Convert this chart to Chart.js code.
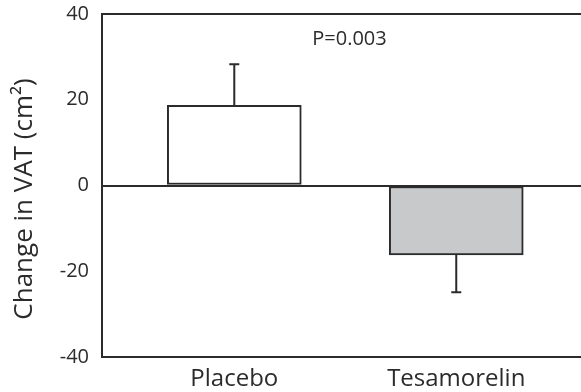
<!DOCTYPE html>
<html>
<head>
<meta charset="utf-8">
<script src="https://cdn.jsdelivr.net/npm/chart.js@4"></script>
<style>
  html, body { margin: 0; padding: 0; background: #fff; }
  #wrap { width: 581px; height: 392px; }
</style>
</head>
<body>
<div id="wrap"><canvas id="c" width="581" height="392"></canvas></div>
<script>
// Mean change in visceral adipose tissue by treatment group
const categories = ['Placebo', 'Tesamorelin'];
const changes = [18.7, -16.2];
const errors = [9.6, 8.7];
const barColors = ['#ffffff', '#c8c9cb'];
const yTicks = [-40, -20, 0, 20, 40];
const yTitle = 'Change in VAT (cm²)';
const pLabel = 'P=0.003';

const FONT = '"Open Sans", "Noto Sans", sans-serif';
const INK = '#2b2b2b';

// Error bars drawn from the errors array, pointing away from zero
const errorBars = {
  id: 'errorBars',
  afterDatasetsDraw(chart) {
    const { ctx, scales: { x, y } } = chart;
    ctx.save();
    ctx.strokeStyle = INK;
    ctx.lineWidth = 2;
    changes.forEach((v, i) => {
      const px = x.getPixelForValue(i);
      const end = v >= 0 ? v + errors[i] : v - errors[i];
      const y0 = y.getPixelForValue(v);
      const y1 = y.getPixelForValue(end);
      ctx.beginPath();
      ctx.moveTo(px, y0);
      ctx.lineTo(px, y1);
      ctx.moveTo(px - 5, y1);
      ctx.lineTo(px + 5, y1);
      ctx.stroke();
    });
    ctx.restore();
  }
};

// Significance note inside the plot and the rotated y-axis title
const annotations = {
  id: 'annotations',
  afterDraw(chart) {
    const { ctx, scales: { x, y } } = chart;
    ctx.save();
    ctx.fillStyle = INK;
    ctx.font = '20px ' + FONT;
    ctx.textAlign = 'center';
    ctx.textBaseline = 'middle';
    ctx.fillText(pLabel, x.getPixelForValue(0.519), y.getPixelForValue(34.0));

    ctx.translate(25, 199);
    ctx.rotate(-Math.PI / 2);
    ctx.font = '26px ' + FONT;
    ctx.fillText(yTitle, 0, 0);
    ctx.restore();
  }
};

new Chart(document.getElementById('c'), {
  type: 'bar',
  data: {
    datasets: [{
      data: categories.map((c, i) => ({ x: i, y: changes[i] })),
      backgroundColor: barColors,
      borderColor: INK,
      borderWidth: 2,
      borderSkipped: false,
      barThickness: 134
    }]
  },
  options: {
    responsive: false,
    animation: false,
    events: [],
    layout: { padding: { top: 14, right: 0, bottom: 0, left: 0 } },
    plugins: { legend: { display: false }, tooltip: { enabled: false } },
    scales: {
      x: {
        type: 'linear',
        offset: false,
        min: -0.596,
        max: 1.562,
        afterBuildTicks(scale) { scale.ticks = [{ value: 0 }, { value: 1 }]; },
        afterFit(scale) { scale.height = 35; },
        ticks: {
          callback: v => categories[v],
          color: INK,
          font: { family: FONT, size: 24 },
          padding: 8,
          maxRotation: 0
        },
        grid: { display: false, drawTicks: false },
        border: { display: false }
      },
      y: {
        min: -40,
        max: 40,
        afterBuildTicks(scale) { scale.ticks = yTicks.map(v => ({ value: v })); },
        afterFit(scale) { scale.width = 102; scale.paddingTop = 0; scale.paddingBottom = 0; },
        ticks: {
          color: INK,
          font: { family: FONT, size: 20 },
          padding: 13
        },
        grid: {
          drawTicks: false,
          lineWidth: 2,
          color: c => ([40, 0, -40].includes(c.tick && c.tick.value) ? INK : 'rgba(0,0,0,0)')
        },
        border: { display: true, color: INK, width: 2 },
        title: { display: false }
      }
    }
  },
  plugins: [errorBars, annotations]
});
</script>
</body>
</html>
